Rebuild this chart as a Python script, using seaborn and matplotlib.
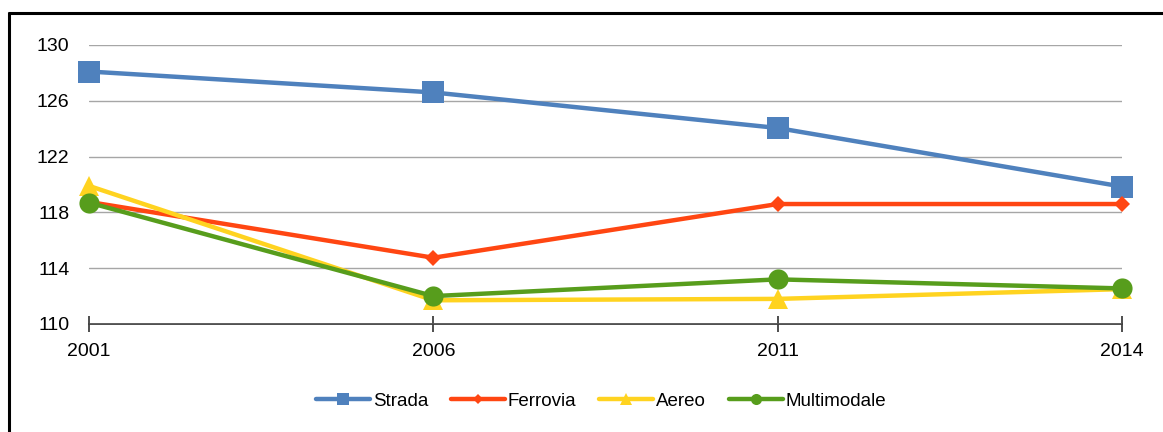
import pandas as pd
import numpy as np
import matplotlib.pyplot as plt
import seaborn as sns
from matplotlib.lines import Line2D

# ===============================
# DATI
# ===============================
anni = ['2001', '2006', '2011', '2014']
strada = [128.1, 126.6, 124.05, 119.85]
ferrovia = [118.75, 114.75, 118.6, 118.6]
aereo = [119.9, 111.7, 111.8, 112.5]
multimodale = [118.7, 112.0, 113.2, 112.55]

serie = ['Strada', 'Ferrovia', 'Aereo', 'Multimodale']
colori = ['#4F81BD', '#FF4612', '#FFD320', '#579D1C']
marcatori = ['s', 'D', '^', 'o']
dim_marcatori = [16, 8.5, 15, 14.5]

df = pd.DataFrame({'Anno': anni * 4,
                   'Valore': strada + ferrovia + aereo + multimodale,
                   'Serie': np.repeat(serie, len(anni))})
df['pos'] = np.tile(np.arange(len(anni)), 4)

sns.set_style('white')
plt.rcParams['font.family'] = ['Liberation Sans', 'DejaVu Sans']
plt.rcParams['text.color'] = 'black'
plt.rcParams['xtick.labelcolor'] = 'black'
plt.rcParams['ytick.labelcolor'] = 'black'

fig = plt.figure(figsize=(11.63, 4.32), dpi=100)
ax = fig.add_axes([89 / 1163, 1 - 324 / 432, (1122 - 89) / 1163, (324 - 45) / 432])

for nome, col, mk, ms in zip(serie, colori, marcatori, dim_marcatori):
    sub = df[df['Serie'] == nome]
    sns.lineplot(data=sub, x='pos', y='Valore', ax=ax, color=col, marker=mk,
                 markersize=ms, markeredgewidth=0, linewidth=3.2, clip_on=False,
                 legend=False)

ax.set_xlim(0, 3)
ax.set_ylim(110, 130)
ax.set_yticks(np.arange(110, 131, 4))
ax.set_xticks(range(len(anni)))
ax.set_xticklabels(anni)
ax.set_xlabel('')
ax.set_ylabel('')
ax.grid(axis='y', color='#A6A6A6', linewidth=1.0)
ax.set_axisbelow(True)
for s in ['top', 'right', 'left']:
    ax.spines[s].set_visible(False)
ax.spines['bottom'].set_color('#404040')
ax.spines['bottom'].set_linewidth(1.3)
ax.spines['bottom'].set_zorder(0.5)
ax.tick_params(axis='x', bottom=True, direction='inout', length=12, width=1.3,
               color='#404040', labelcolor='black', labelsize=14, pad=8)
ax.tick_params(axis='y', left=False, length=0, labelcolor='black', labelsize=14, pad=14)

# Legenda
handles = [Line2D([], [], color=c, marker=m, markersize=s * 0.55, markeredgewidth=0,
                  linewidth=3.2) for c, m, s in zip(colori, marcatori, dim_marcatori)]
fig.legend(handles, serie, loc='center', bbox_to_anchor=(601 / 1163, 1 - 401 / 432),
           ncol=4, frameon=False, fontsize=13.5, handlelength=2.9, columnspacing=1.2,
           handletextpad=0.15, labelcolor='black')

# Cornice
fig.add_artist(Line2D([7.5 / 1163, 1], [1 - 12.5 / 432] * 2, color='black', linewidth=2.2,
                      solid_capstyle='butt'))
fig.add_artist(Line2D([8.5 / 1163] * 2, [0, 1 - 11.5 / 432], color='black', linewidth=2.2,
                      solid_capstyle='butt'))

fig.savefig('out.png', dpi=100)
